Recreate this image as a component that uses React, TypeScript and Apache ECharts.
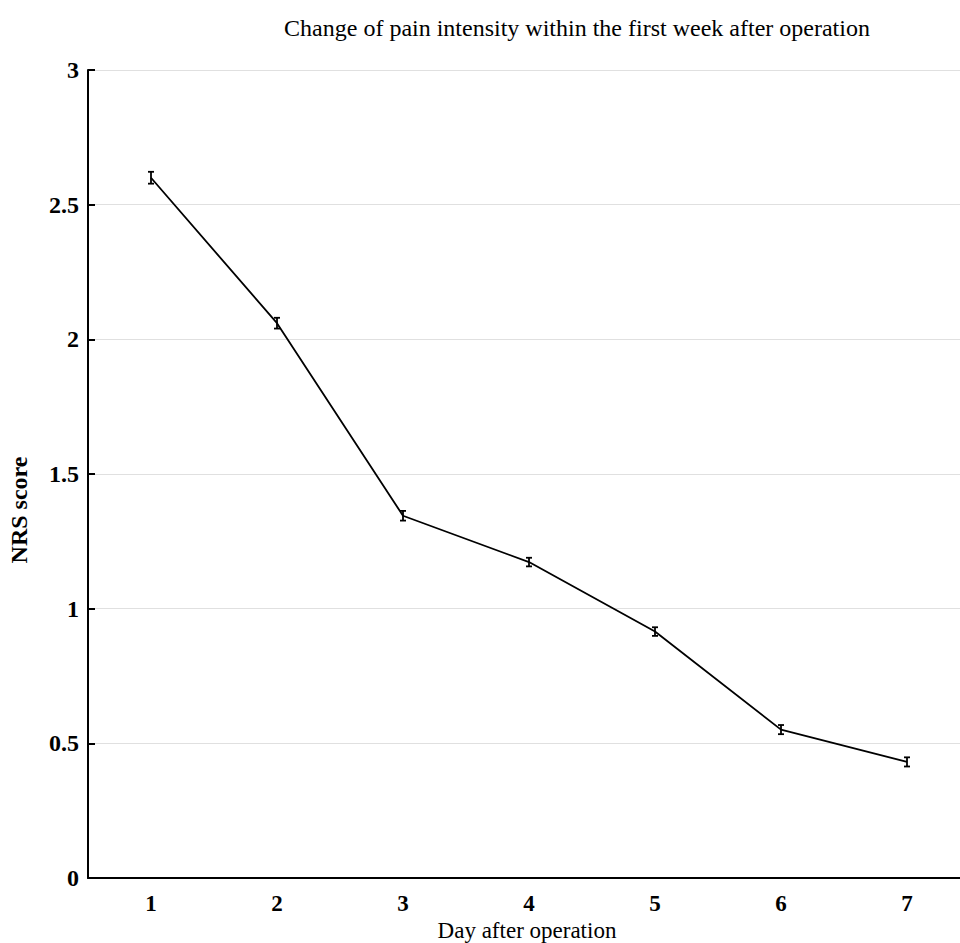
import React, { useEffect, useRef } from "react";
import * as echarts from "echarts";

const days = ["1", "2", "3", "4", "5", "6", "7"];
const nrsMean = [2.6, 2.06, 1.345, 1.173, 0.915, 0.551, 0.431];
const nrsErr = [0.022, 0.02, 0.018, 0.016, 0.016, 0.017, 0.017];
const yTicks = [0, 0.5, 1, 1.5, 2, 2.5, 3];

export default function App() {
  const ref = useRef<HTMLDivElement>(null);
  useEffect(() => {
    if (!ref.current) return;
    const chart = echarts.init(ref.current, undefined, { renderer: "svg" });
    const serif = "Liberation Serif, Times New Roman, serif";
    const errData = days.map((_, i) => [i, nrsMean[i] - nrsErr[i], nrsMean[i] + nrsErr[i]]);
    chart.setOption({
      animation: false,
      backgroundColor: "#ffffff",
      title: {
        text: "Change of pain intensity within the first week after operation",
        left: 572,
        top: 11,
        textAlign: "center",
        textStyle: { fontFamily: serif, fontSize: 24, fontWeight: "normal", color: "#000" },
      },
      graphic: [
        {
          type: "text",
          x: 19,
          y: 510,
          rotation: Math.PI / 2,
          style: {
            text: "NRS score",
            fontFamily: serif,
            fontSize: 24,
            fontWeight: "bold",
            fill: "#000",
            textAlign: "center",
            textVerticalAlign: "middle",
          },
        },
        {
          type: "text",
          x: 527,
          y: 930,
          style: {
            text: "Day after operation",
            fontFamily: serif,
            fontSize: 23,
            fill: "#000",
            textAlign: "center",
            textVerticalAlign: "middle",
          },
        },
      ],
      grid: { left: 88, top: 70, width: 882, height: 808, outerBoundsMode: "none" },
      xAxis: {
        type: "category",
        data: days,
        boundaryGap: true,
        axisLine: { lineStyle: { color: "#000", width: 2 } },
        axisTick: { inside: true, length: 7, lineStyle: { color: "#000", width: 2 } },
        axisLabel: { fontFamily: serif, fontSize: 23, fontWeight: "bold", color: "#000", margin: 14 },
        splitLine: { show: false },
      },
      yAxis: {
        type: "value",
        min: yTicks[0],
        max: yTicks[yTicks.length - 1],
        interval: 0.5,
        axisLine: { show: true, lineStyle: { color: "#000", width: 2 } },
        axisTick: { show: true, inside: true, length: 7, lineStyle: { color: "#000", width: 2 } },
        axisLabel: { fontFamily: serif, fontSize: 24, fontWeight: "bold", color: "#000", margin: 9 },
        splitLine: { show: true, lineStyle: { color: "#e0e0e0", width: 1 } },
      },
      series: [
        {
          type: "line",
          data: nrsMean,
          showSymbol: false,
          symbol: "none",
          lineStyle: { color: "#000", width: 1.8 },
          z: 2,
        },
        {
          type: "custom",
          data: errData,
          z: 3,
          renderItem: (params: any, api: any) => {
            const x = api.value(0);
            const lo = api.coord([x, api.value(1)]);
            const hi = api.coord([x, api.value(2)]);
            const w = 3;
            const style = { stroke: "#000", lineWidth: 1.8 };
            return {
              type: "group",
              children: [
                { type: "line", shape: { x1: lo[0], y1: lo[1], x2: hi[0], y2: hi[1] }, style },
                { type: "line", shape: { x1: lo[0] - w, y1: lo[1], x2: lo[0] + w, y2: lo[1] }, style },
                { type: "line", shape: { x1: hi[0] - w, y1: hi[1], x2: hi[0] + w, y2: hi[1] }, style },
              ],
            };
          },
        },
      ],
    });
    return () => chart.dispose();
  }, []);
  return (
    <div
      ref={ref}
      style={{ position: "absolute", left: 0, top: 0, width: 960, height: 943, background: "#fff" }}
    />
  );
}
